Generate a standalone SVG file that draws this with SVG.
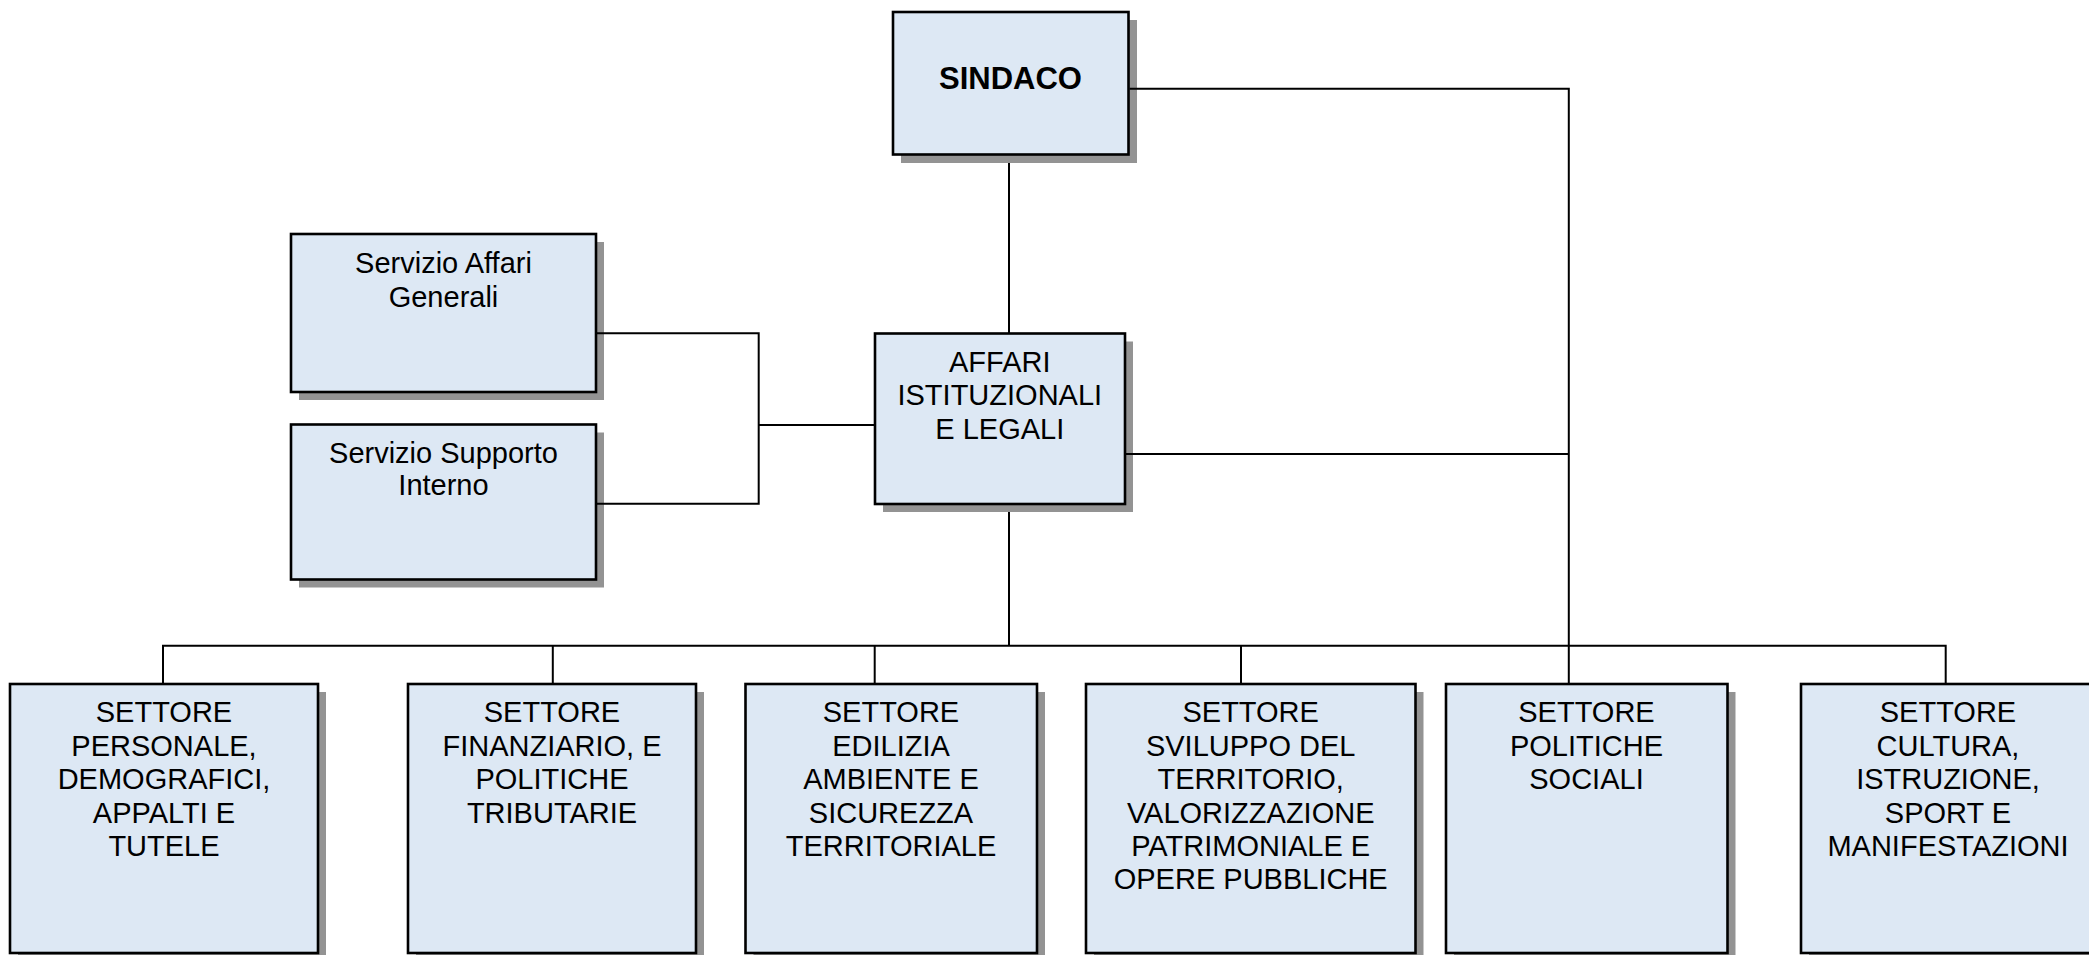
<svg xmlns="http://www.w3.org/2000/svg" width="2089" height="955" viewBox="0 0 2089 955">
<style>
.box{fill:#dde8f4;stroke:#000;stroke-width:2.6}
.sh{fill:#939393}
.c{fill:none;stroke:#000;stroke-width:2}
text{font-family:"Liberation Sans",Arial,sans-serif;font-size:29px;fill:#000;text-anchor:middle}
.b{font-weight:bold;font-size:31px}
</style>
<rect width="2089" height="955" fill="#fff"/>
<g id="sindaco">
<rect class="sh" x="901" y="20" width="236" height="143"/>
<rect class="box" x="893" y="12" width="235.5" height="142.5"/>
<text class="b" x="1010.5" y="88.5">SINDACO</text>
</g>
<g id="servizio-affari-generali">
<rect class="sh" x="299" y="242" width="305" height="158"/>
<rect class="box" x="291" y="234" width="305" height="158"/>
<text x="443.5" y="272.5">Servizio Affari</text>
<text x="443.5" y="306.5">Generali</text>
</g>
<g id="servizio-supporto-interno">
<rect class="sh" x="299" y="432.5" width="305" height="155"/>
<rect class="box" x="291" y="424.5" width="305" height="155"/>
<text x="443.5" y="462.5">Servizio Supporto</text>
<text x="443.5" y="495">Interno</text>
</g>
<g id="affari-istituzionali">
<rect class="sh" x="883" y="341.5" width="250" height="170.5"/>
<rect class="box" x="875" y="333.5" width="250" height="170.5"/>
<text x="999.8" y="371.7">AFFARI</text>
<text x="999.8" y="405.2">ISTITUZIONALI</text>
<text x="999.8" y="438.5">E LEGALI</text>
</g>
<g id="settore-personale">
<rect class="sh" x="18" y="692" width="308" height="269"/>
<rect class="box" x="10" y="684" width="308" height="269"/>
<text x="164" y="722.3">SETTORE</text>
<text x="164" y="755.7">PERSONALE,</text>
<text x="164" y="789.1">DEMOGRAFICI,</text>
<text x="164" y="822.5">APPALTI E</text>
<text x="164" y="855.9">TUTELE</text>
</g>
<g id="settore-finanziario">
<rect class="sh" x="416" y="692" width="288" height="269"/>
<rect class="box" x="408" y="684" width="288" height="269"/>
<text x="552" y="722.3">SETTORE</text>
<text x="552" y="755.7">FINANZIARIO, E</text>
<text x="552" y="789.1">POLITICHE</text>
<text x="552" y="822.5">TRIBUTARIE</text>
</g>
<g id="settore-edilizia">
<rect class="sh" x="753.5" y="692" width="291.5" height="269"/>
<rect class="box" x="745.5" y="684" width="291.5" height="269"/>
<text x="891" y="722.3">SETTORE</text>
<text x="891" y="755.7">EDILIZIA</text>
<text x="891" y="789.1">AMBIENTE E</text>
<text x="891" y="822.5">SICUREZZA</text>
<text x="891" y="855.9">TERRITORIALE</text>
</g>
<g id="settore-sviluppo">
<rect class="sh" x="1094" y="692" width="329.5" height="269"/>
<rect class="box" x="1086" y="684" width="329.5" height="269"/>
<text x="1250.7" y="722.3">SETTORE</text>
<text x="1250.7" y="755.7">SVILUPPO DEL</text>
<text x="1250.7" y="789.1">TERRITORIO,</text>
<text x="1250.7" y="822.5">VALORIZZAZIONE</text>
<text x="1250.7" y="855.9">PATRIMONIALE E</text>
<text x="1250.7" y="889.3">OPERE PUBBLICHE</text>
</g>
<g id="settore-politiche-sociali">
<rect class="sh" x="1454" y="692" width="281.5" height="269"/>
<rect class="box" x="1446" y="684" width="281.5" height="269"/>
<text x="1586.5" y="722.3">SETTORE</text>
<text x="1586.5" y="755.7">POLITICHE</text>
<text x="1586.5" y="789.1">SOCIALI</text>
</g>
<g id="settore-cultura">
<rect class="sh" x="1809" y="692" width="294" height="269"/>
<rect class="box" x="1801" y="684" width="294" height="269"/>
<text x="1948" y="722.3">SETTORE</text>
<text x="1948" y="755.7">CULTURA,</text>
<text x="1948" y="789.1">ISTRUZIONE,</text>
<text x="1948" y="822.5">SPORT E</text>
<text x="1948" y="855.9">MANIFESTAZIONI</text>
</g>
<g id="connectors">
<path class="c" d="M1009,163 V333"/>
<path class="c" d="M1129.5,88.7 H1568.8 V683"/>
<path class="c" d="M1126,454 H1568.8"/>
<path class="c" d="M597,333.3 H758.7 V503.7 H597"/>
<path class="c" d="M758.7,425 H874"/>
<path class="c" d="M1009,512 V645.7"/>
<path class="c" d="M163,683 V645.7 H1945.7 V683"/>
<path class="c" d="M552.8,645.7 V683"/>
<path class="c" d="M874.7,645.7 V683"/>
<path class="c" d="M1241,645.7 V683"/>
</g>
</svg>
